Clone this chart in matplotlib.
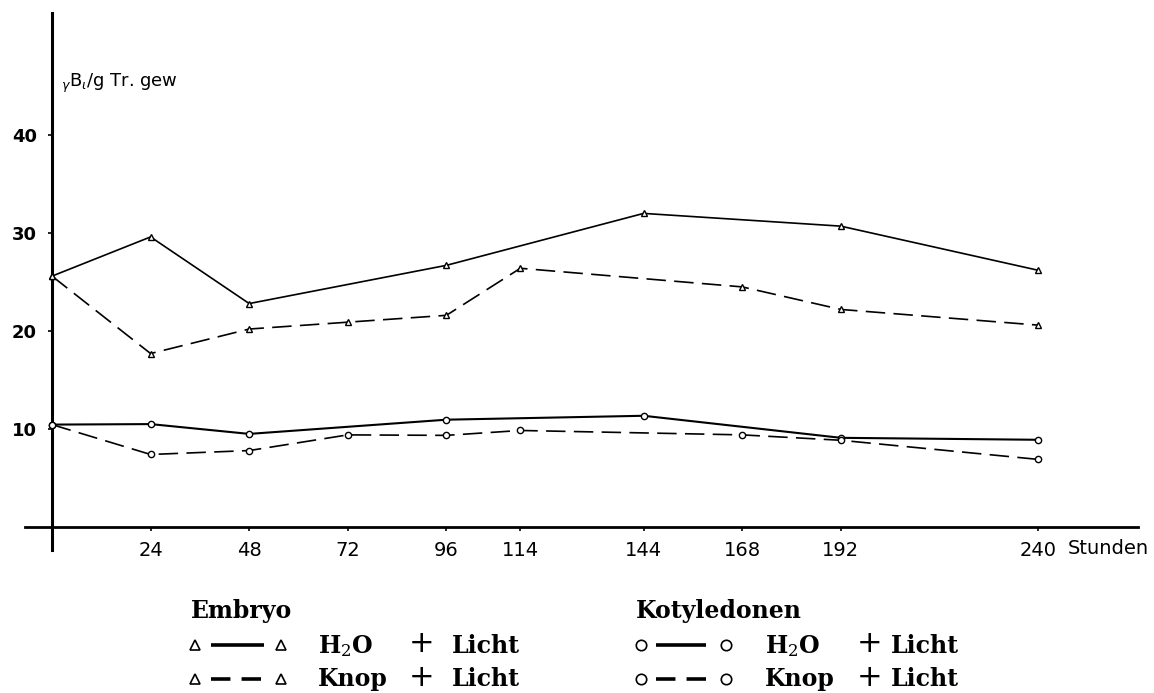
import matplotlib
matplotlib.use("Agg")
import matplotlib.pyplot as plt
from matplotlib.lines import Line2D

# ---------------- data ----------------
x_h2o = [0, 24, 48, 96, 144, 192, 240]
x_knop = [0, 24, 48, 72, 96, 114, 168, 192, 240]

embryo_h2o = [25.6, 29.6, 22.8, 26.7, 32.0, 30.7, 26.2]
embryo_knop = [25.6, 17.7, 20.2, 20.9, 21.6, 26.4, 24.5, 22.2, 20.6]
kotyl_h2o = [10.45, 10.5, 9.5, 10.95, 11.35, 9.1, 8.9]
kotyl_knop = [10.45, 7.4, 7.8, 9.4, 9.35, 9.85, 9.4, 8.85, 6.9]

x_ticks = [24, 48, 72, 96, 114, 144, 168, 192, 240]
y_ticks = [10, 20, 30, 40]
y_label = r"$_\gamma$B$_\iota$/g Tr. gew"
x_unit = "Stunden"

# ---------------- style ----------------
plt.rcParams["lines.scale_dashes"] = False
serif = ["DejaVu Serif"]
sans = ["DejaVu Sans"]

W, H = 1154, 693
fig = plt.figure(figsize=(W / 100, H / 100), dpi=100)

def fx(px):
    return px / W

def fy(py):
    return 1 - py / H

# axes geometry (pixels): x 25..1138, y 13..550 ; origin at (52, 527)
X0, X1, Y0, Y1 = 25, 1138, 13, 550
ax = fig.add_axes([fx(X0), fy(Y1), (X1 - X0) / W, (Y1 - Y0) / H])
pxh = (1038 - 52) / 240.0
pxu = 9.8
ax.set_xlim(-(52 - X0) / pxh, (X1 - 52) / pxh)
ax.set_ylim(-(Y1 - 527) / pxu, (527 - Y0) / pxu)

for s in ["top", "right"]:
    ax.spines[s].set_visible(False)
ax.spines["left"].set_position(("data", 0))
ax.spines["bottom"].set_position(("data", 0))
ax.spines["left"].set_linewidth(2.2)
ax.spines["bottom"].set_linewidth(2.0)

ax.set_xticks(x_ticks)
ax.set_xticklabels([str(t) for t in x_ticks], fontfamily=sans, fontsize=14)
ax.set_yticks(y_ticks)
ax.set_yticklabels([str(t) for t in y_ticks], fontfamily=sans,
                   fontsize=13, fontweight="bold")
ax.tick_params(axis="x", direction="out", length=3, width=1.2, pad=7)
ax.tick_params(axis="y", direction="out", length=3, width=1.2, pad=8)

dash = (0, (14, 6))
lw = 1.2
ax.plot(x_h2o, embryo_h2o, color="black", lw=lw, marker="^", ms=5,
        mfc="white", mec="black", mew=1.0, zorder=3)
ax.plot(x_knop, embryo_knop, color="black", lw=lw, linestyle=dash, marker="^", ms=5,
        mfc="white", mec="black", mew=1.0, zorder=3)
ax.plot(x_h2o, kotyl_h2o, color="black", lw=lw + 0.3, marker="o", ms=4.5,
        mfc="white", mec="black", mew=1.0, zorder=3)
ax.plot(x_knop, kotyl_knop, color="black", lw=lw, linestyle=dash, marker="o", ms=4.5,
        mfc="white", mec="black", mew=1.0, zorder=3)

# y label inside the plot
fig.text(fx(61), fy(83), y_label, fontsize=13, fontfamily=sans,
         math_fontfamily="dejavusans", ha="left", va="center")
# x unit
fig.text(fx(1068), fy(548), x_unit, fontsize=14, fontfamily=sans,
         ha="left", va="center")

# ---------------- legend ----------------
def sym(xa, xb, l0, l1, py, marker, ls, ms):
    fig.add_artist(Line2D([fx(l0), fx(l1)], [fy(py), fy(py)],
                          transform=fig.transFigure, color="black", lw=2.6,
                          linestyle=ls, solid_capstyle="butt", dash_capstyle="butt"))
    for xx in (xa, xb):
        fig.add_artist(Line2D([fx(xx)], [fy(py)], transform=fig.transFigure,
                              marker=marker, ms=ms, mfc="white", mec="black",
                              mew=1.2, linestyle="none"))

tkw = dict(fontsize=17, fontfamily=serif, fontweight="bold", va="baseline", ha="left")
pkw = dict(fontsize=22, fontfamily=sans, fontweight="normal", va="center", ha="center")
ROW_T, ROW_2, ROW_3 = 618, 653, 686      # baselines
SYM_2, SYM_3 = 645, 679                  # symbol centres

groups = [
    # title_x, title, marker, ms, m1, m2, line0, line1, text_x, plus_x, licht_x
    (191, "Embryo", "^", 7, 195, 281, 211, 264, 318, 422, 452),
    (636, "Kotyledonen", "o", 7.5, 641, 726, 656, 706, 765, 870, 891),
]
for (tx, title, marker, ms, m1, m2, l0, l1, txx, plx, lix) in groups:
    fig.text(fx(tx), fy(ROW_T), title, **tkw)
    sym(m1, m2, l0, l1, SYM_2, marker, "-", ms)
    sym(m1, m2, l0, l1, SYM_3, marker, (0, (14, 8)), ms)
    fig.text(fx(txx), fy(ROW_2), "H$_2$O", math_fontfamily="dejavuserif", **tkw)
    fig.text(fx(txx), fy(ROW_3), "Knop", **tkw)
    for yb, yc in ((ROW_2, SYM_2), (ROW_3, SYM_3)):
        fig.text(fx(plx), fy(yc - 1), "+", **pkw)
        fig.text(fx(lix), fy(yb), "Licht", **tkw)

fig.savefig("out.png", dpi=100, facecolor="white")
